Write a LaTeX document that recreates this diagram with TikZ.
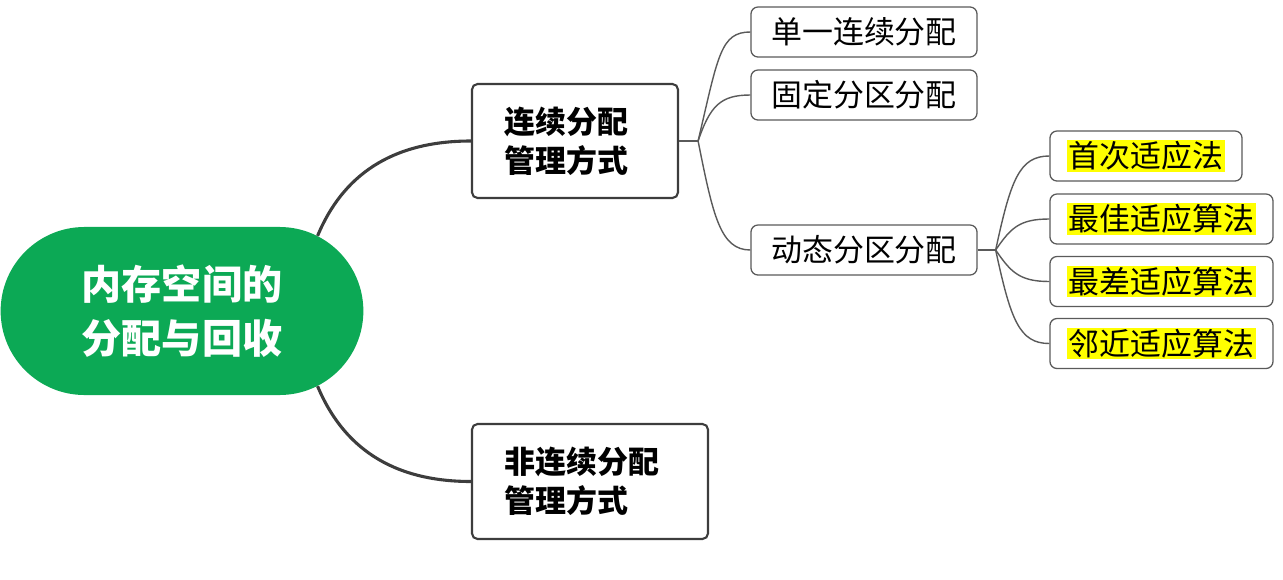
\documentclass[tikz,border=0pt]{standalone}
\usepackage{fontspec}
\newfontfamily\cjk{Noto Sans CJK SC}
\usepackage{tikz}
\usetikzlibrary{shapes.misc,calc}
\definecolor{rootgreen}{HTML}{0CA955}
\definecolor{edge}{HTML}{3D3D3D}
\definecolor{twiggray}{HTML}{5A5A5A}
\definecolor{hl}{HTML}{FFFF00}
\newcommand{\hlt}[1]{{\setlength{\fboxsep}{1pt}\colorbox{hl}{#1}}}

\begin{document}
\begin{tikzpicture}[
  x=0.025cm, y=-0.025cm,
  root/.style={
    rounded rectangle, fill=rootgreen, text=white,
    minimum width=9.3cm, minimum height=4.2cm, align=center,
    font=\cjk\bfseries\fontsize{28.5}{38.5}\selectfont
  },
  mainbox/.style={
    draw=edge, line width=1.5pt, rounded corners=4pt, fill=white,
    inner xsep=0.825cm, align=left, minimum height=2.85cm,
    font=\cjk\bfseries\fontsize{22}{28}\selectfont
  },
  leaf/.style={
    draw=twiggray, line width=0.9pt, rounded corners=5pt, fill=white,
    minimum height=1.25cm, align=center,
    font=\cjk\fontsize{22}{26}\selectfont
  },
  trunk/.style={edge, line width=2.2pt},
  twig/.style={twiggray, line width=1pt}
]
  \useasboundingbox (0,0) rectangle (1283,579);

  % Root and the two ways of allocation
  \node[root] (root) at (182,311) {内存空间的\\分配与回收};
  \node[mainbox, text width=3.5cm] (cont) at (575,141) {连续分配\\管理方式};
  \node[mainbox, text width=4.25cm, minimum height=2.875cm] (noncont) at (590,481.5) {非连续分配\\管理方式};

  % Contiguous schemes
  \node[leaf, minimum width=5.65cm] (single)  at (864,32)  {单一连续分配};
  \node[leaf, minimum width=5.65cm] (fixed)   at (864,95)  {固定分区分配};
  \node[leaf, minimum width=5.65cm] (dynamic) at (864,250) {动态分区分配};

  % Placement algorithms
  \node[leaf, minimum width=4.8cm]   (first) at (1146,156)    {\hlt{首次适应法}};
  \node[leaf, minimum width=5.575cm] (best)  at (1161.5,219)  {\hlt{最佳适应算法}};
  \node[leaf, minimum width=5.575cm] (worst) at (1161.5,281.5) {\hlt{最差适应算法}};
  \node[leaf, minimum width=5.575cm] (near)  at (1161.5,343.5) {\hlt{邻近适应算法}};

  \draw[trunk] (root.29)  .. controls +(25,-60) and +(-80,0) .. (cont.west);
  \draw[trunk] (root.-29) .. controls +(25,60)  and +(-80,0) .. (noncont.west);

  \coordinate (j1) at ([xshift=0.475cm]cont.east);
  \draw[twig] (cont.east) -- (j1);
  \draw[twig] (j1) .. controls +(20,-85) and +(-30,0) .. (single.west);
  \draw[twig] (j1) .. controls +(12,-35) and +(-30,0) .. (fixed.west);
  \draw[twig] (j1) .. controls +(15,75)  and +(-30,0) .. (dynamic.west);

  \coordinate (j2) at ([xshift=0.45cm]dynamic.east);
  \draw[twig] (dynamic.east) -- (j2);
  \foreach \t/\d in {first/-70, best/-22, worst/22, near/70}
    \draw[twig] (j2) .. controls +(15,\d) and +(-30,0) .. (\t.west);
\end{tikzpicture}
\end{document}
